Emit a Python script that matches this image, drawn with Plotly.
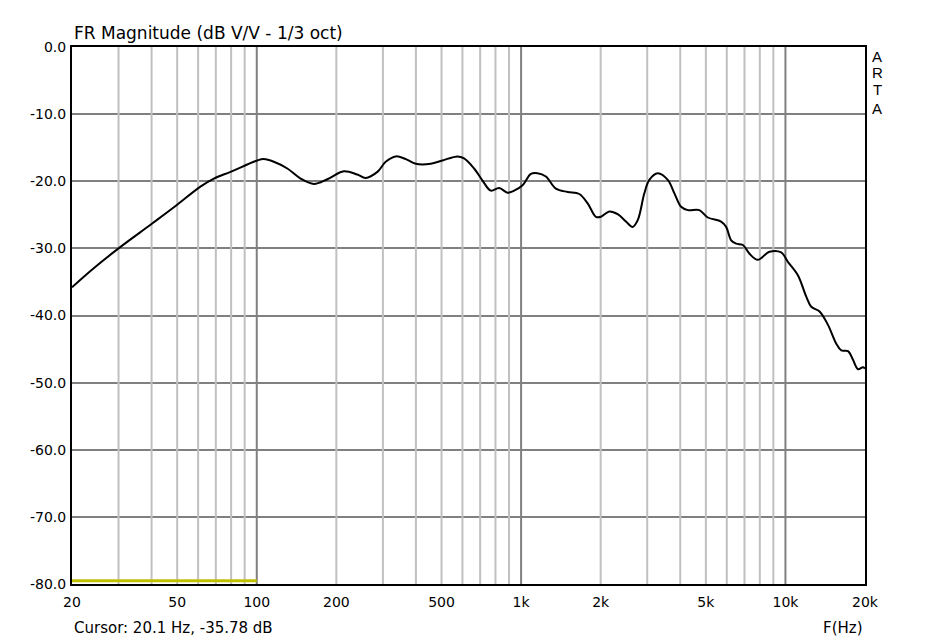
import plotly.graph_objects as go

# Frequency response (Hz, dB)
freq_hz = [20, 24.1, 30.0, 40.2, 50.0, 61.2, 68.8, 79.6, 100.4, 106.3, 116.0, 130.5,
           146.5, 164.5, 184.9, 213.5, 240.1, 258.2, 286.0, 307.5, 335.6, 366.2, 399.6,
           455.2, 504.2, 574.5, 608.6, 664.0, 714.7, 768.2, 825.7, 888.8, 941.4, 1013,
           1089, 1154, 1241, 1354, 1500, 1660, 1786, 1919, 2005, 2156, 2319, 2493, 2643,
           2762, 2926, 3055, 3288, 3589, 3802, 4030, 4272, 4727, 5086, 5711, 5966, 6233,
           6512, 6904, 7313, 7864, 8703, 9638, 10214, 11146, 11990, 12525, 13462, 14488,
           15572, 16267, 17246, 18015, 18818, 19651, 20000]
mag_db = [-35.8, -33.0, -30.0, -26.3, -23.5, -20.8, -19.6, -18.6, -16.9, -16.7, -17.1, -18.1,
          -19.6, -20.4, -19.7, -18.5, -19.0, -19.5, -18.6, -17.1, -16.3, -16.7, -17.4,
          -17.4, -16.9, -16.3, -16.6, -18.1, -19.9, -21.4, -21.0, -21.7, -21.4, -20.6,
          -18.9, -18.8, -19.3, -21.1, -21.6, -21.9, -23.3, -25.3, -25.3, -24.5, -24.9, -26.0, -26.8,
          -25.8, -21.8, -19.8, -18.8, -19.8, -21.8, -23.8, -24.3, -24.3, -25.4, -26.0, -26.8, -28.8,
          -29.3, -29.5, -30.8, -31.7, -30.5, -30.6, -32.0, -34.0, -37.2, -38.7, -39.4, -41.4,
          -44.2, -45.2, -45.3, -46.6, -48.0, -47.7, -47.9]

# Marker band (yellow) at bottom
band_x = [20, 100]
band_y = [-79.5, -79.5]

x_tickvals = [20, 50, 100, 200, 500, 1000, 2000, 5000, 10000, 20000]
x_ticktext = ["20", "50", "100", "200", "500", "1k", "2k", "5k", "10k", "20k"]
y_tickvals = [0, -10, -20, -30, -40, -50, -60, -70, -80]
y_ticktext = ["0.0", "-10.0", "-20.0", "-30.0", "-40.0", "-50.0", "-60.0", "-70.0", "-80.0"]

minor_freqs = [30, 40, 50, 60, 70, 80, 90, 200, 300, 400, 500, 600, 700, 800, 900,
               2000, 3000, 4000, 5000, 6000, 7000, 8000, 9000]
major_freqs = [100, 1000, 10000]

FONT = "DejaVu Sans"

def vlines(fs):
    xs, ys = [], []
    for f in fs:
        xs += [f, f, None]
        ys += [0, -80, None]
    return xs, ys

fig = go.Figure()
mx, my = vlines(minor_freqs)
fig.add_trace(go.Scatter(x=mx, y=my, mode="lines", line=dict(color="#c0c0c0", width=2),
                         hoverinfo="skip", showlegend=False))
Mx, My = vlines(major_freqs)
fig.add_trace(go.Scatter(x=Mx, y=My, mode="lines", line=dict(color="#808080", width=2),
                         hoverinfo="skip", showlegend=False))
fig.add_trace(go.Scatter(x=band_x, y=band_y, mode="lines", line=dict(color="#c0c000", width=3),
                         hoverinfo="skip", showlegend=False))
fig.add_trace(go.Scatter(x=freq_hz, y=mag_db, mode="lines", line=dict(color="black", width=2),
                         line_shape="spline", showlegend=False))

fig.update_layout(
    width=937, height=641,
    margin=dict(l=72, r=72, t=47, b=57),
    paper_bgcolor="white", plot_bgcolor="white",
    font=dict(family=FONT, size=14, color="black"),
    showlegend=False,
)
fig.update_xaxes(type="log", range=[1.30103, 4.30103], tickvals=x_tickvals, ticktext=x_ticktext,
                 showgrid=False, zeroline=False, showline=True, linecolor="black", linewidth=2,
                 mirror=True, ticks="", ticklabelstandoff=4, tickfont=dict(size=14, family=FONT))
fig.update_yaxes(range=[-80, 0], tickvals=y_tickvals, ticktext=y_ticktext,
                 showgrid=True, gridcolor="#808080", gridwidth=2, zeroline=False,
                 showline=True, linecolor="black", linewidth=2, mirror=True, ticks="",
                 ticklabelstandoff=1, tickfont=dict(size=14, family=FONT))

PW, PH = 937 - 144, 641 - 104
def px(xp):
    return (xp - 72) / PW
def py(yp):
    return (641 - 57 - yp) / PH

ann = [
    dict(text="FR Magnitude (dB V/V - 1/3 oct)", x=px(72), y=py(33), xanchor="left", yanchor="middle",
         font=dict(size=17, family=FONT)),
    dict(text="Cursor: 20.1 Hz, -35.78 dB", x=px(72), y=py(628), xanchor="left", yanchor="middle",
         font=dict(size=15, family=FONT)),
    dict(text="F(Hz)", x=px(865), y=py(628), xanchor="right", yanchor="middle",
         font=dict(size=15, family=FONT)),
]
for letter, yc in zip("ARTA", [56, 72, 90, 108]):
    ann.append(dict(text=letter, x=px(877), y=py(yc), xanchor="center", yanchor="middle",
                    font=dict(size=15, family="Liberation Sans")))
for a in ann:
    a.update(xref="paper", yref="paper", showarrow=False)
fig.update_layout(annotations=ann)

fig.write_html("out.html")
